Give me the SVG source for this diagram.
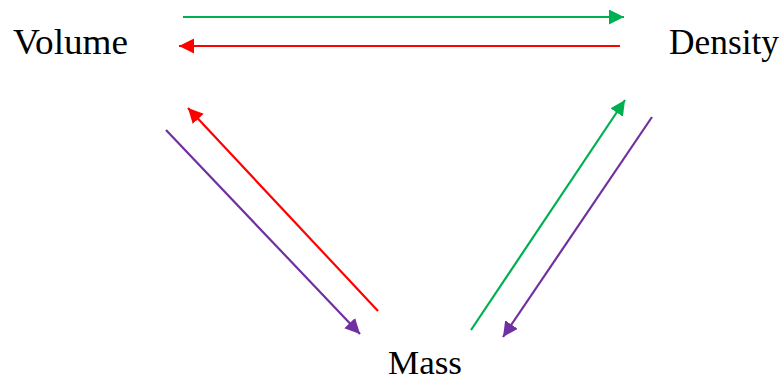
<svg xmlns="http://www.w3.org/2000/svg" width="783" height="382" viewBox="0 0 783 382">
<defs>
<style>
.lbl{font-family:"Liberation Serif","Times New Roman",serif;font-size:35px;fill:#000}
.c{stroke-width:2.2;fill:none}
.g{stroke:#00B050}.r{stroke:#FF0000}.p{stroke:#7030A0}
</style>
<marker id="ag" markerUnits="userSpaceOnUse" markerWidth="17" markerHeight="17" refX="15" refY="7.5" orient="auto"><path d="M0,0 L15,7.5 L0,15 Z" fill="#00B050"/></marker>
<marker id="ar" markerUnits="userSpaceOnUse" markerWidth="17" markerHeight="17" refX="15" refY="7.5" orient="auto"><path d="M0,0 L15,7.5 L0,15 Z" fill="#FF0000"/></marker>
<marker id="ap" markerUnits="userSpaceOnUse" markerWidth="17" markerHeight="17" refX="15" refY="7.5" orient="auto"><path d="M0,0 L15,7.5 L0,15 Z" fill="#7030A0"/></marker>
</defs>
<rect width="783" height="382" fill="#fff"/>
<g id="connectors">
<line class="c g" x1="183" y1="17" x2="624" y2="17" marker-end="url(#ag)"/>
<line class="c r" x1="620" y1="46" x2="179" y2="46" marker-end="url(#ar)"/>
<line class="c r" x1="378" y1="311" x2="188" y2="108" marker-end="url(#ar)"/>
<line class="c p" x1="166" y1="130" x2="360" y2="334" marker-end="url(#ap)"/>
<line class="c g" x1="471" y1="330" x2="625" y2="100" marker-end="url(#ag)"/>
<line class="c p" x1="652" y1="117" x2="503" y2="337" marker-end="url(#ap)"/>
</g>
<g id="volume"><text class="lbl" x="13" y="54" textLength="115" lengthAdjust="spacingAndGlyphs">Volume</text></g>
<g id="density"><text class="lbl" x="669" y="54" textLength="110" lengthAdjust="spacingAndGlyphs">Density</text></g>
<g id="mass"><text class="lbl" x="388" y="374" style="font-size:33px" textLength="74" lengthAdjust="spacingAndGlyphs">Mass</text></g>
</svg>
